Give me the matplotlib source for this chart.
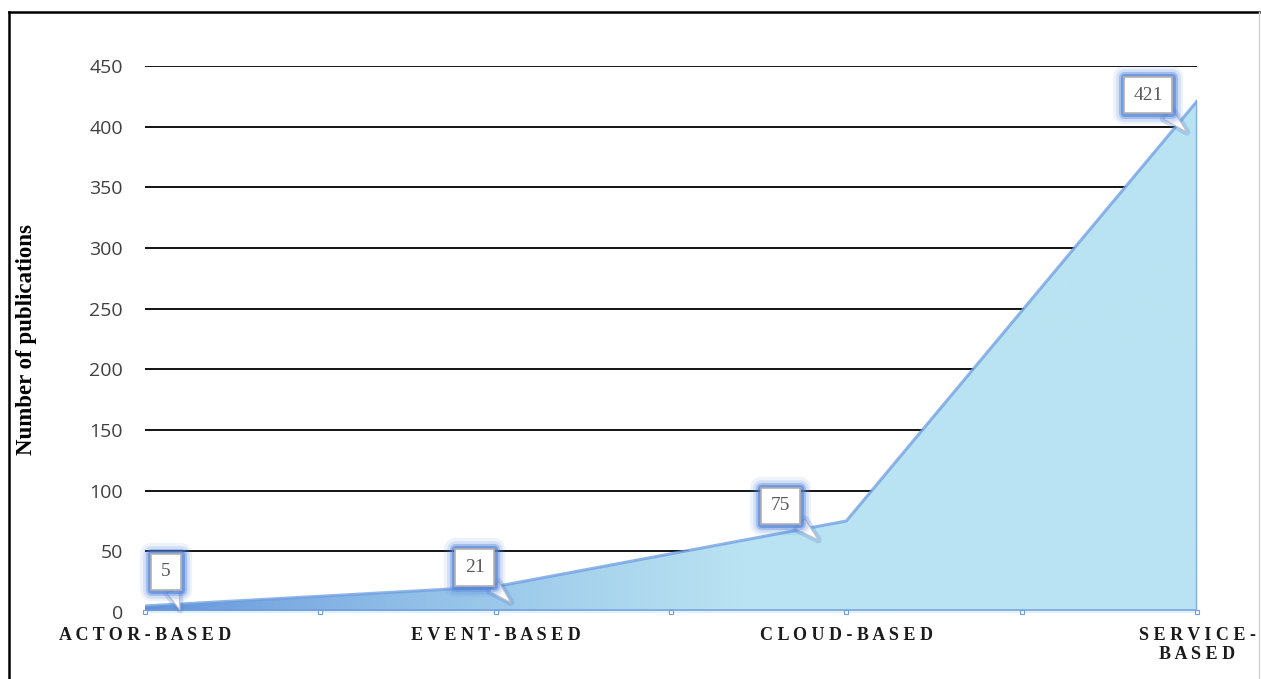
import numpy as np
import matplotlib
matplotlib.use("Agg")
import matplotlib.pyplot as plt
import matplotlib.patheffects as pe
from matplotlib.colors import to_rgb
from matplotlib.lines import Line2D
from matplotlib.transforms import offset_copy

# data
categories = ["ACTOR-BASED", "EVENT-BASED", "CLOUD-BASED", "SERVICE-\nBASED"]
publications = [5, 21, 75, 421]
y_ticks = list(range(0, 451, 50))

# callout placement (pixels): tip shift from the data point, box shift from the tip
tip_shift = [(35, -4), (15, -16), (-28, -19), (-10, -31)]
box_shift = [(-14, 38), (-36, 35), (-38, 34), (-39, 37)]

fig = plt.figure(figsize=(12.61, 6.79), dpi=100)
ax = fig.add_axes([145 / 1261, 1 - 612 / 679, 1052 / 1261, 546 / 679])

x = np.arange(len(categories))
y = np.array(publications)

# area with a dark-to-light blue gradient clipped to the polygon
poly = ax.fill_between(x, y, 0, color="#b9e3f2", lw=0, zorder=2)
dark = np.array(to_rgb("#5a8ed9"))
light = np.array(to_rgb("#b9e3f2"))
xs = np.linspace(0, 3, 400)
t = np.clip(xs / 1.7, 0, 1) ** 0.7
grad = (dark[None, :] * (1 - t[:, None]) + light[None, :] * t[:, None])[None, :, :]
im = ax.imshow(grad, extent=[0, 3, 0, 450], aspect="auto", origin="lower", zorder=2.5)
im.set_clip_path(poly.get_paths()[0], transform=ax.transData)

# soft blue outline of the area
ax.plot(x, y, color="#6d9de2", lw=2.2, alpha=0.75, zorder=3,
        solid_capstyle="round")
ax.plot([x[-1], x[-1]], [0, y[-1]], color="#7aa6e4", lw=2.5, alpha=0.8, zorder=3)

# bottom axis: white line with blue glow and small tick boxes
ax.axhline(0, color="white", lw=1.2, zorder=4,
           path_effects=[pe.Stroke(linewidth=5, foreground="#6d9de2", alpha=0.7), pe.Normal()])
ax.plot(np.arange(0, 3.01, 0.5), np.zeros(7), ls="none", marker="s", ms=3.5,
        mfc="white", mec="#6d9de2", mew=0.8, zorder=5, clip_on=False)

ax.set_xlim(0, 3)
ax.set_ylim(0, 450)
ax.set_yticks(y_ticks)
ax.grid(axis="y", color="black", lw=1.3, zorder=1)
ax.set_axisbelow(True)
for s in ax.spines.values():
    s.set_visible(False)

ax.tick_params(axis="y", length=0, pad=16, labelsize=14, labelcolor="#404040")
for lab in ax.get_yticklabels():
    lab.set_family("Open Sans")

ax.set_xticks(x)
ax.set_xticklabels([" ".join(list(c)).replace(" \n ", "\n") for c in categories],
                   family="Liberation Serif", fontweight="bold", fontsize=13,
                   color="#1a1a1a", linespacing=1.1)
ax.tick_params(axis="x", length=0, pad=11)

ax.set_ylabel("Number of publications", family="Liberation Serif", fontweight="bold",
              fontsize=16.5, color="black", labelpad=0)
ax.yaxis.set_label_coords(-(145 - 37) / 1052, 0.5 - (340 - 339) / 546)

# callouts
glow = [pe.Stroke(linewidth=16, foreground="#5b8ae0", alpha=0.10, joinstyle="round"),
        pe.Stroke(linewidth=12, foreground="#5b8ae0", alpha=0.18, joinstyle="round"),
        pe.Stroke(linewidth=8, foreground="#4f81dc", alpha=0.35, joinstyle="round"),
        pe.Stroke(linewidth=5, foreground="#4f81dc", alpha=0.6, joinstyle="round"),
        pe.Normal()]
for xi, yi, (tx, ty), (bx, by) in zip(x, y, tip_shift, box_shift):
    tip = offset_copy(ax.transData, fig=fig, x=tx, y=ty, units="dots")
    ann = ax.annotate(str(yi), xy=(xi, yi), xycoords=tip,
                      xytext=(bx, by), textcoords="offset pixels",
                      ha="center", va="center", family="Liberation Serif",
                      fontsize=14, color="#595959", zorder=6,
                      bbox=dict(boxstyle="square,pad=0.5", fc="white", ec="#b0b0b0", lw=1.2),
                      arrowprops=dict(arrowstyle="wedge,tail_width=0.7,shrink_factor=0.5",
                                      fc="white", ec="#c0c0c0", lw=0.8,
                                      shrinkA=0, shrinkB=0))
    ann.get_bbox_patch().set_path_effects(glow)
    ann.arrow_patch.set_path_effects([pe.Stroke(linewidth=5, foreground="#4f81dc", alpha=0.25,
                                                joinstyle="round"),
                                      pe.Normal()])

# outer frame of the figure
fig.add_artist(Line2D([9 / 1261, 9 / 1261], [0, 1 - 12 / 679], color="black", lw=1.8,
                      transform=fig.transFigure))
fig.add_artist(Line2D([9 / 1261, 1259 / 1261], [1 - 12 / 679, 1 - 12 / 679], color="black",
                      lw=1.8, transform=fig.transFigure))
fig.add_artist(Line2D([1259 / 1261, 1259 / 1261], [0, 1 - 12 / 679], color="#d0d0d0", lw=1,
                      transform=fig.transFigure))

fig.savefig("out.png", dpi=100)
